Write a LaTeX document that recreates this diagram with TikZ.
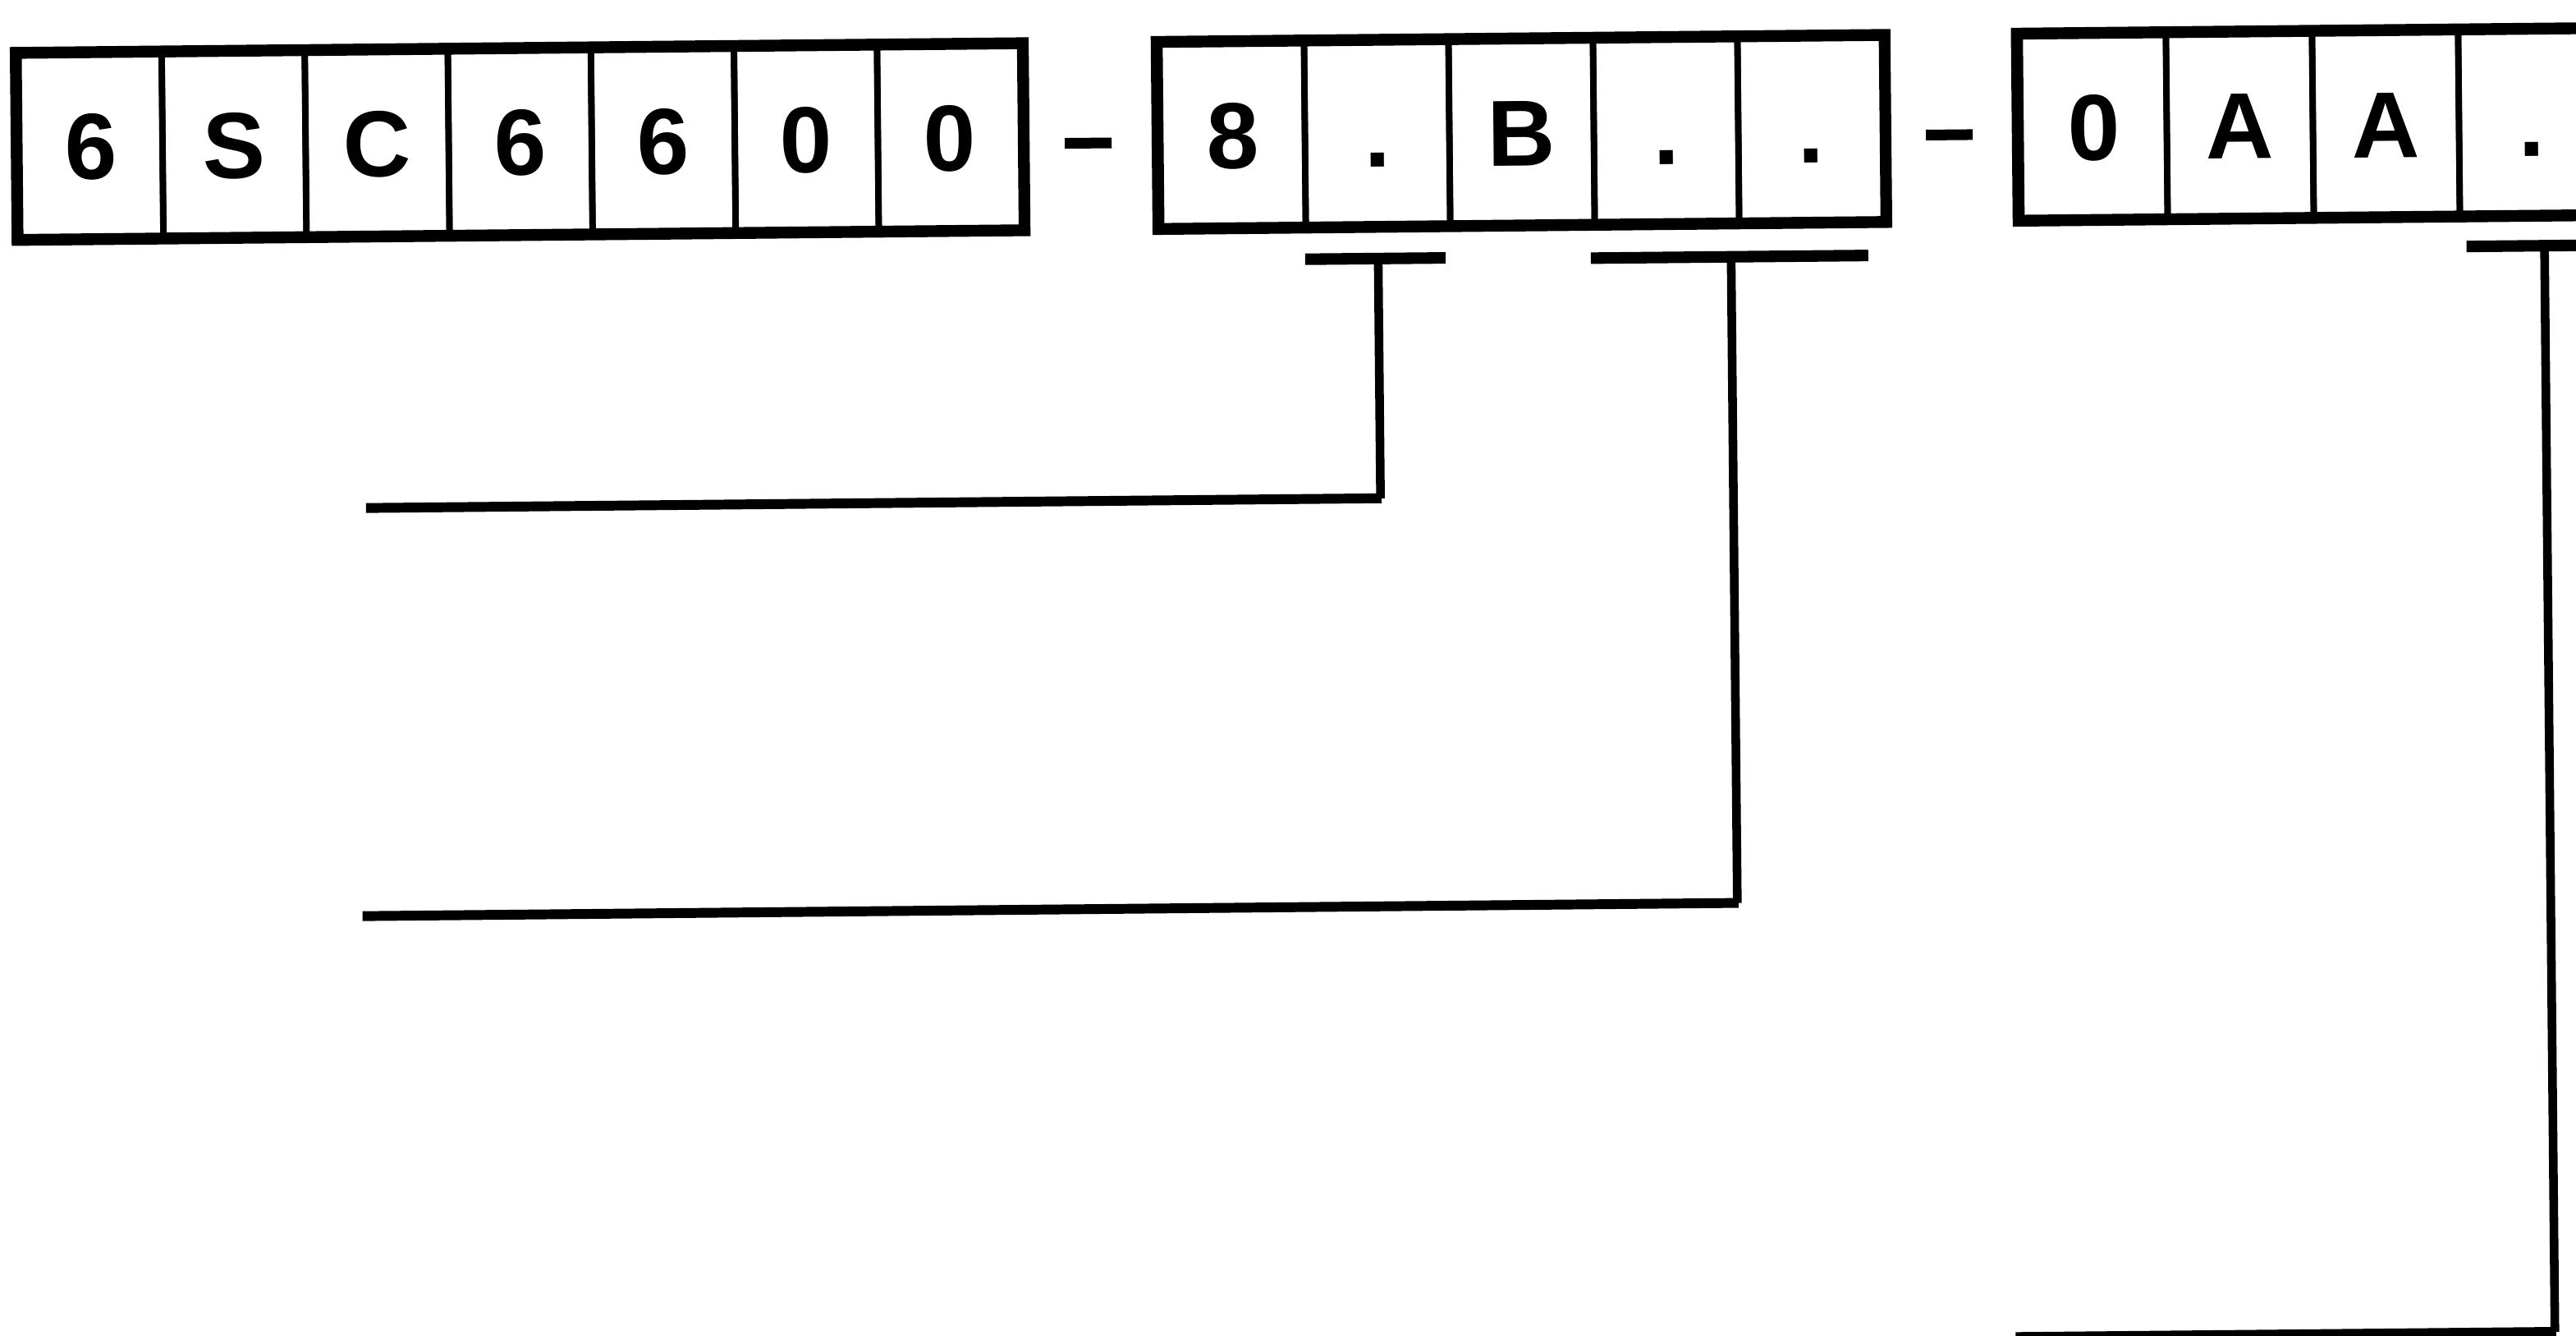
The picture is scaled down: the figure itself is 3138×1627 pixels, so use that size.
\documentclass[tikz,border=0pt]{standalone}
\usepackage{fontspec}
\setmainfont{Liberation Sans}
\begin{document}
\begin{tikzpicture}[x=0.01cm,y=-0.01cm,
  cell/.style={draw, line width=2.2pt, inner sep=0pt, minimum height=2.21cm,
    text height=0.82cm, text depth=0pt,
    font=\fontsize{32.5}{39}\selectfont\bfseries},
  frame/.style={line width=3.8pt},
  bar/.style={line width=4pt},
  leader/.style={line width=3.4pt},
  stem/.style={line width=3pt},
  hyph/.style={fill=black, inner sep=0pt, minimum width=0.57cm, minimum height=0.13cm}]
\path[use as bounding box] (0,0) rectangle (3138,1627);
\clip (0,0) rectangle (3138,1627);
\begin{scope}[rotate=0.55, transform shape]
  % group 1
  \foreach \t [count=\i] in {6,S,C,6,6,0,0}{
    \node[cell, minimum width=1.743cm] (g1c\i) at ({22+174.3*(\i-0.5)},178.5) {\t};
  }
  \draw[frame] (g1c1.north west) rectangle (g1c7.south east);
  % hyphen 1
  \node[hyph] (h1) at (1324,187) {};
  % group 2
  \foreach \t [count=\i] in {8,.,B,.,.}{
    \node[cell, minimum width=1.76cm] (g2c\i) at ({1412+176*(\i-0.5)},178.5) {\t};
  }
  \draw[frame] (g2c1.north west) rectangle (g2c5.south east);
  % hyphen 2
  \node[hyph] (h2) at (2373,187) {};
  % group 3
  \foreach \t [count=\i] in {0,A,A,.}{
    \node[cell, minimum width=1.78cm] (g3c\i) at ({2460+178*(\i-0.5)},178.5) {\t};
  }
  \draw[frame] (g3c1.north west) rectangle (g3c4.south east);
  % leaders
  \coordinate (b1l) at (1587,331);
  \coordinate (b1r) at (1758,331);
  \coordinate (b1m) at (1676,331);
  \coordinate (k1) at (1676,623);
  \coordinate (e1) at (440,623);
  \draw[bar] (b1l) -- (b1r);
  \draw[stem] (b1m) -- (k1);
  \draw[leader] ([xshift=0.015cm]k1) -- (e1);

  \coordinate (b2l) at (1935,333);
  \coordinate (b2r) at (2273,333);
  \coordinate (b2m) at (2106,333);
  \coordinate (k2) at (2106,1120);
  \coordinate (e2) at (431,1120);
  \draw[bar] (b2l) -- (b2r);
  \draw[stem] (b2m) -- (k2);
  \draw[leader] ([xshift=0.015cm]k2) -- (e2);

  \coordinate (b3l) at (3002,329);
  \coordinate (b3r) at (3200,329);
  \coordinate (b3m) at (3097,329);
  \coordinate (k3) at (3097,1652);
  \coordinate (e3) at (2440,1652);
  \draw[bar] (b3l) -- (b3r);
  \draw[stem] (b3m) -- (k3);
  \draw[leader] ([xshift=0.015cm]k3) -- (e3);
\end{scope}
\end{tikzpicture}
\end{document}
